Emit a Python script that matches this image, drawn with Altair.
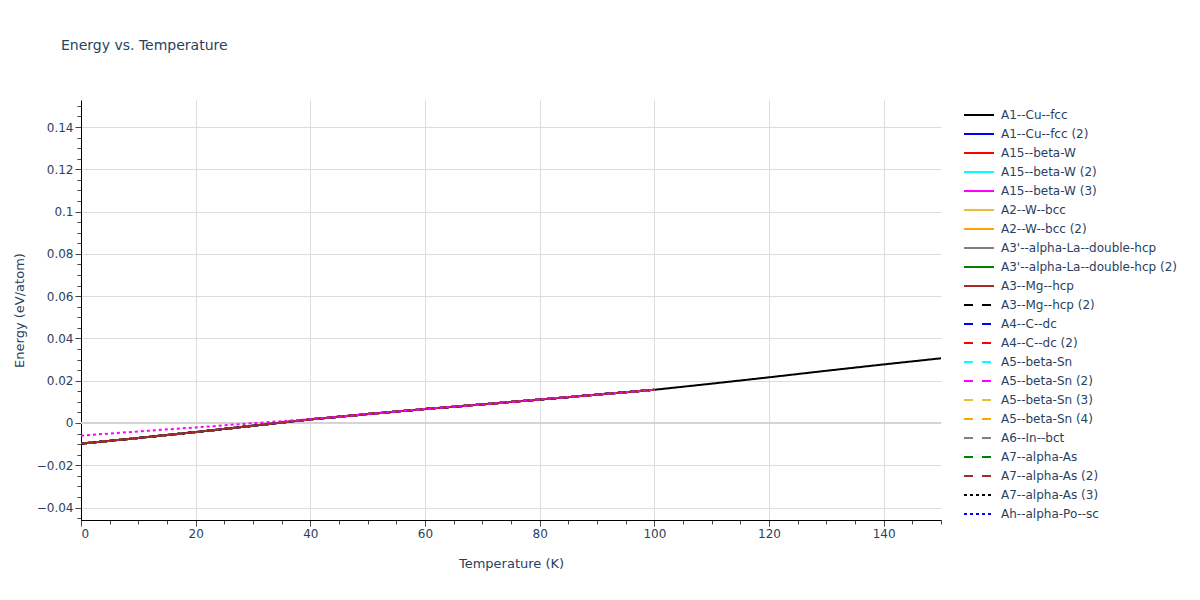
import altair as alt
import pandas as pd

# ---- data ----
temps = [0, 10, 20, 30, 40, 50, 60, 70, 80, 90, 100]
temps_ext = [110, 120, 130, 140, 150]
energy_main = [-0.0098, -0.0071, -0.0043, -0.0013, 0.0017, 0.0042, 0.0066, 0.0088, 0.0111, 0.0134, 0.0157]
energy_cu_ext = [0.0186, 0.0216, 0.0247, 0.0277, 0.0306]
energy_dot = [-0.0060, -0.0040, -0.0021, -0.0001, 0.0018, 0.0042, 0.0066, 0.0088, 0.0111, 0.0134, 0.0157]

legend_names = [
    "A1--Cu--fcc", "A1--Cu--fcc (2)", "A15--beta-W", "A15--beta-W (2)", "A15--beta-W (3)",
    "A2--W--bcc", "A2--W--bcc (2)", "A3'--alpha-La--double-hcp", "A3'--alpha-La--double-hcp (2)",
    "A3--Mg--hcp", "A3--Mg--hcp (2)", "A4--C--dc", "A4--C--dc (2)", "A5--beta-Sn",
    "A5--beta-Sn (2)", "A5--beta-Sn (3)", "A5--beta-Sn (4)", "A6--In--bct", "A7--alpha-As",
    "A7--alpha-As (2)", "A7--alpha-As (3)", "Ah--alpha-Po--sc",
]
hidden_name = "Ah--alpha-Po--sc (2)"
all_names = legend_names + [hidden_name]

palette = ["black", "blue", "red", "cyan", "magenta", "#e6c03c", "orange", "gray", "green", "brown"]
colors = palette + palette + ["black", "blue", "magenta"]
dash_solid, dash_dash, dash_dot = [1, 0], [9, 9], [3, 3]
dashes = [dash_solid] * 10 + [dash_dash] * 10 + [dash_dot] * 3

x_ticks = list(range(0, 151, 5))
y_ticks = [round(-0.045 + 0.005 * i, 3) for i in range(40)]
zero = [0.0]

# ---- build table ----
rows = []
for name in all_names:
    vals = energy_dot if name == hidden_name else energy_main
    for t, e in zip(temps, vals):
        rows.append({"series": name, "T": t, "E": e})
    if name == "A1--Cu--fcc":
        for t, e in zip(temps_ext, energy_cu_ext):
            rows.append({"series": name, "T": t, "E": e})
df = pd.DataFrame(rows)
df["order"] = df["series"].map({n: i for i, n in enumerate(all_names)})

TXT = "#2a3f5f"
FONT = "DejaVu Sans"

major_x = "datum.value % 20 == 0"
major_y = "abs(datum.value/0.02 - round(datum.value/0.02)) < 0.000001"

y_scale = alt.Scale(domain=[-0.0459, 0.1528], nice=False, zero=False)

x_enc = alt.X(
    "T:Q",
    scale=alt.Scale(domain=[0, 150], nice=False, zero=False),
    axis=alt.Axis(
        title="Temperature (K)", values=x_ticks,
        labelExpr=f"{major_x} ? format(datum.value, '~g') : ''",
        gridOpacity={"condition": {"test": major_x, "value": 1}, "value": 0},
        tickSize={"condition": {"test": major_x, "value": 6}, "value": 4},
        titlePadding=18,
    ),
)
y_axis = alt.Axis(
    title="Energy (eV/atom)", values=y_ticks,
    labelExpr=f"{major_y} ? format(datum.value, '~g') : ''",
    gridOpacity={"condition": {"test": major_y, "value": 1}, "value": 0},
    tickSize={"condition": {"test": major_y, "value": 6}, "value": 4},
    titlePadding=10,
)
y_enc = alt.Y("E:Q", scale=y_scale, axis=y_axis)

legend = alt.Legend(
    title=None, values=legend_names, orient="none", legendX=887, legendY=4,
    symbolType="M-1.5,0H1.5", symbolSize=400, symbolStrokeWidth=2,
    labelFontSize=12, labelColor=TXT, labelFont=FONT, rowPadding=2, labelOffset=11,
    labelLimit=300,
)
color_enc = alt.Color("series:N", scale=alt.Scale(domain=all_names, range=colors), legend=legend)
dash_enc = alt.StrokeDash("series:N", scale=alt.Scale(domain=all_names, range=dashes), legend=legend)

zero_rule = alt.Chart(pd.DataFrame({"E": zero})).mark_rule(color="#d4d4d4", strokeWidth=2).encode(
    y=y_enc
)

base = alt.Chart(df).mark_line(strokeWidth=2, clip=True).encode(
    x=x_enc, y=y_enc, color=color_enc, strokeDash=dash_enc, order="order:Q"
)
others = base.transform_filter(
    (alt.datum.series != "A3--Mg--hcp") & (alt.datum.series != hidden_name)
)
mg = base.transform_filter(alt.datum.series == "A3--Mg--hcp")
dot = base.transform_filter(alt.datum.series == hidden_name)

chart = alt.layer(zero_rule, others, mg, dot).properties(
    width=860, height=420,
    title=alt.TitleParams("Energy vs. Temperature", anchor="start", frame="group", dx=-20,
                          offset=47, fontSize=14, fontWeight="normal", color=TXT, font=FONT),
    autosize=alt.AutoSizeParams(type="none"),
    padding={"left": 73, "top": 92, "right": 240, "bottom": 70},
).configure_axis(
    gridColor="#dddddd", gridWidth=1, domainColor="black", domainWidth=1,
    tickColor="#444444", labelColor=TXT, labelFont=FONT, labelFontSize=12,
    titleColor=TXT, titleFont=FONT, titleFontSize=13, titleFontWeight="normal",
).configure_view(stroke=None)

chart.save("out.html", embed_options={"renderer": "svg", "actions": False})
